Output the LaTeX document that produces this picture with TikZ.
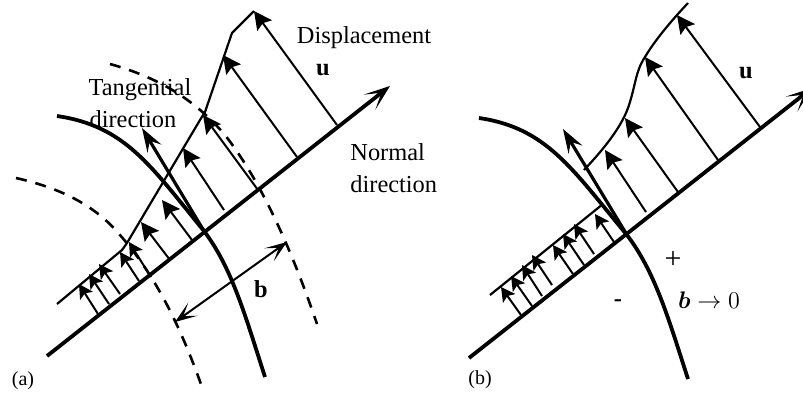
\documentclass[tikz,border=0pt]{standalone}
\usepackage{fontspec}
\setmainfont{Liberation Serif}
\usepackage{amsmath}
\usetikzlibrary{arrows.meta}

\begin{document}
\begin{tikzpicture}[
                x=0.5pt, y=-0.5pt,
                axisline/.style={-{Stealth[length=13pt,width=9.5pt,inset=7.5pt]}, line width=1.9pt},
                tangentline/.style={line width=1.9pt},
                tangentarrow/.style={-{Stealth[length=12pt,width=8pt,inset=4.5pt]}, line width=1.6pt},
                profileline/.style={line width=1.1pt},
                disparrow/.style={-{Stealth[length=9pt,width=9pt,inset=1.5pt]}, line width=1pt},
                smallarrow/.style={-{Stealth[length=7pt,width=7.5pt,inset=1.5pt]}, line width=1pt},
                dashline/.style={line width=1.3pt, dash pattern=on 5.5pt off 4.5pt},
                widtharrow/.style={{Stealth[length=11pt,width=8pt,inset=6pt]}-{Stealth[length=11pt,width=8pt,inset=6pt]}, line width=1pt},
                lbl/.style={font=\fontsize{12.2}{14}\selectfont, inner sep=0pt},
                caplbl/.style={font=\fontsize{10}{12}\selectfont, inner sep=0pt}
            ]
                \useasboundingbox (0,0) rectangle (803,397);
                % (a)
                \draw[axisline] (47,356) -- (390,86);
                \draw[tangentline] (57,116) .. controls (125,126) and (150,165) .. (204,231)
                    .. controls (232,268) and (245,315) .. (265,377);
                \draw[tangentarrow] (204,231) -- (142,128);
                \draw[profileline] (57,304) -- (122,250) -- (127,243) -- (200,120) -- (205,112)
                    -- (232,33) -- (254,11);
                \foreach \xa/\ya/\xb/\yb in {98/314/79/284, 109/304/89/274, 120/294/99/264,
                    139/281/120/252, 151/277/129/242}
                    \draw[smallarrow] (\xa,\ya) -- (\xb,\yb);
                \foreach \xa/\ya/\xb/\yb in {170/260/141/222, 192/240/162/200,
                    224/210/183/148, 258/190/203/115, 297/157/223/55, 337/125/254/11}
                    \draw[disparrow] (\xa,\ya) -- (\xb,\yb);
                \draw[dashline] (110,64) .. controls (160,78) and (195,100) .. (225,135)
                    .. controls (260,180) and (290,245) .. (317,324);
                \draw[dashline] (16,178) .. controls (60,188) and (95,205) .. (120,235)
                    .. controls (155,275) and (180,325) .. (202,387);
                \draw[widtharrow] (175,322) -- (287,242);
                \node[lbl] (disp) at (364,38) {Displacement};
                \node[lbl] (ua) at (323,70) {\textbf{u}};
                \node[lbl] (tang) at (140,90) {Tangential};
                \node[lbl] (tdir) at (133,119) {direction};
                \node[lbl, anchor=west] (norm) at (350,152) {Normal};
                \node[lbl, anchor=west] (ndir) at (350,184) {direction};
                \node[lbl] (ba) at (261,289) {\textbf{b}};
                \node[caplbl] (capa) at (23,381) {(a)};
                % (b)
                \draw[axisline] (469,358) -- (812,88);
                \draw[tangentline] (479,118) .. controls (547,128) and (572,169) .. (627,235)
                    .. controls (655,272) and (668,317) .. (688,379);
                \draw[tangentarrow] (627,235) -- (563,129);
                \draw[profileline] (490,295) -- (603,204);
                \draw[profileline] (584,170) .. controls (600,153) and (620,130) .. (628,108)
                    .. controls (636,85) and (635,72) .. (645,57)
                    .. controls (655,40) and (672,20) .. (688,3);
                \foreach \xa/\ya/\xb/\yb in {521/315/501/287, 532/306/511/276, 542/296/522/265,
                    552/285/532/255, 573/274/553/245, 584/265/563/234, 594/254/574/224,
                    614/242/595/214}
                    \draw[smallarrow] (\xa,\ya) -- (\xb,\yb);
                \foreach \xa/\ya/\xb/\yb in {646/212/605/150, 678/192/625/118, 718/160/645/57,
                    760/127/677/15}
                    \draw[disparrow] (\xa,\ya) -- (\xb,\yb);
                \node[lbl] (ub) at (746,73) {\textbf{u}};
                \node[lbl, font=\fontsize{15}{15}\selectfont] (plus) at (673,260) {+};
                \node[lbl] (minus) at (618,303) {\textbf{-}};
                \node[lbl] (bb) at (709,300) {$\boldsymbol{b}\rightarrow 0$};
                \node[caplbl] (capb) at (480,380) {(b)};
            \end{tikzpicture}
\end{document}
